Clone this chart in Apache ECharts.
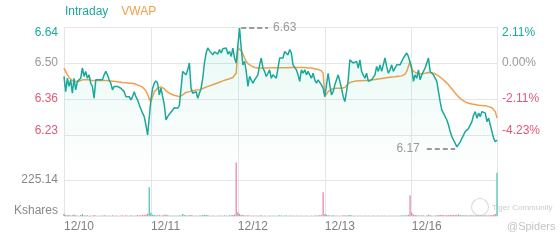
<!DOCTYPE html>
<html><head><meta charset="utf-8">
<script src="https://cdn.jsdelivr.net/npm/echarts@6/dist/echarts.min.js"></script>
<style>html,body{margin:0;padding:0;background:#fff}#c{width:560px;height:240px}</style>
</head><body><div id="c"></div>
<script>
// ---- data ----
const days = ['12/10','12/11','12/12','12/13','12/16'];
const priceD1 = [6.448,6.390,6.441,6.410,6.435,6.384,6.441,6.397,6.429,6.422,6.441,6.480,6.448,6.467,6.441,6.454,6.422,6.410,6.365,6.435,6.441,6.435,6.441,6.435,6.454,6.467,6.454,6.435,6.422,6.397,6.410,6.416,6.410,6.416,6.403,6.397,6.390,6.371,6.365,6.371,6.359,6.371,6.390,6.371,6.359,6.340,6.333,6.308,6.295,6.263,6.225,6.231];
const priceD2 = [6.360,6.403,6.422,6.431,6.422,6.378,6.403,6.397,6.340,6.282,6.295,6.304,6.311,6.320,6.329,6.333,6.327,6.337,6.340,6.467,6.473,6.454,6.473,6.499,6.403,6.384,6.384,6.390,6.365,6.384,6.403,6.441,6.499,6.537,6.556,6.546,6.543,6.530,6.541,6.543,6.533,6.550,6.537,6.553,6.546,6.556,6.533,6.543,6.524,6.556,6.518,6.499];
const priceD3 = [6.492,6.632,6.556,6.492,6.505,6.467,6.410,6.448,6.435,6.422,6.435,6.429,6.454,6.492,6.518,6.480,6.467,6.448,6.460,6.473,6.441,6.454,6.460,6.441,6.480,6.518,6.511,6.518,6.543,6.550,6.530,6.550,6.537,6.492,6.499,6.473,6.454,6.429,6.473,6.460,6.473,6.454,6.467,6.454,6.441,6.460,6.435,6.422,6.435,6.435,6.416,6.403];
const priceD4 = [6.371,6.378,6.460,6.416,6.378,6.390,6.416,6.422,6.454,6.429,6.403,6.371,6.352,6.390,6.435,6.511,6.518,6.499,6.492,6.505,6.480,6.511,6.467,6.454,6.441,6.460,6.429,6.422,6.435,6.429,6.454,6.486,6.467,6.492,6.467,6.473,6.518,6.486,6.460,6.473,6.492,6.467,6.480,6.492,6.486,6.492,6.505,6.518,6.524,6.537,6.524,6.518];
const priceD5 = [6.480,6.429,6.454,6.441,6.473,6.435,6.454,6.467,6.480,6.473,6.518,6.467,6.460,6.454,6.460,6.429,6.390,6.352,6.320,6.308,6.301,6.282,6.263,6.238,6.219,6.206,6.193,6.180,6.174,6.199,6.212,6.219,6.238,6.231,6.250,6.244,6.276,6.301,6.314,6.289,6.308,6.295,6.314,6.320,6.308,6.276,6.289,6.263,6.238,6.212,6.199,6.206];

const vwapD1 = [6.480,6.467,6.454,6.444,6.438,6.432,6.429,6.429,6.429,6.429,6.431,6.435,6.435,6.435,6.435,6.435,6.433,6.432,6.432,6.432,6.432,6.432,6.432,6.432,6.432,6.432,6.432,6.431,6.431,6.430,6.430,6.429,6.428,6.427,6.426,6.425,6.424,6.424,6.423,6.422,6.422,6.422,6.421,6.418,6.416,6.413,6.411,6.407,6.401,6.393,6.380,6.362];
const vwapD2 = [6.352,6.371,6.390,6.397,6.403,6.406,6.408,6.407,6.401,6.393,6.387,6.384,6.380,6.378,6.375,6.374,6.373,6.371,6.373,6.378,6.383,6.387,6.389,6.390,6.392,6.393,6.394,6.396,6.396,6.397,6.399,6.402,6.404,6.407,6.410,6.412,6.413,6.416,6.418,6.421,6.424,6.426,6.429,6.431,6.432,6.435,6.438,6.439,6.441,6.444,6.450,6.460];
const vwapD3 = [6.556,6.553,6.546,6.533,6.518,6.505,6.497,6.492,6.488,6.485,6.482,6.480,6.480,6.480,6.480,6.480,6.480,6.480,6.480,6.480,6.481,6.481,6.481,6.481,6.481,6.481,6.481,6.481,6.481,6.481,6.481,6.482,6.482,6.482,6.482,6.482,6.482,6.482,6.482,6.482,6.482,6.480,6.480,6.480,6.480,6.480,6.477,6.476,6.474,6.473,6.469,6.460];
const vwapD4 = [6.371,6.378,6.390,6.397,6.399,6.401,6.403,6.403,6.403,6.403,6.403,6.403,6.406,6.413,6.421,6.425,6.427,6.429,6.430,6.430,6.431,6.431,6.431,6.432,6.432,6.433,6.433,6.434,6.435,6.436,6.436,6.437,6.438,6.439,6.440,6.441,6.442,6.443,6.444,6.445,6.446,6.446,6.447,6.448,6.449,6.449,6.450,6.451,6.457,6.467,6.486,6.505];
const vwapD5 = [6.473,6.467,6.463,6.460,6.459,6.458,6.458,6.459,6.460,6.462,6.463,6.463,6.462,6.460,6.458,6.454,6.450,6.445,6.440,6.434,6.429,6.422,6.416,6.408,6.401,6.393,6.385,6.378,6.370,6.365,6.359,6.355,6.351,6.348,6.346,6.345,6.343,6.342,6.341,6.340,6.338,6.337,6.337,6.336,6.336,6.334,6.333,6.332,6.329,6.324,6.314,6.289];

const volD1 = [14,6,4,8,3,5,9,4,3,2,6,12,4,3,5,2,3,2,7,3,2,2,3,2,4,3,2,3,2,5,2,3,2,2,3,4,2,5,3,2,4,3,2,3,6,4,5,8,6,10,14,180];
const volD2 = [20,8,6,5,4,6,3,4,8,10,4,3,2,3,2,3,2,4,3,12,6,4,3,5,6,3,2,3,2,3,4,5,8,6,4,3,2,3,2,2,3,2,3,2,4,3,2,5,4,6,10,334];
const volD3 = [25,14,8,6,4,3,5,3,2,3,2,3,2,3,4,2,3,2,2,3,2,3,2,2,3,4,3,2,3,4,2,3,2,3,2,2,3,2,3,2,2,3,2,2,3,2,3,4,3,5,8,148];
const volD4 = [12,8,5,4,3,4,3,2,3,2,3,4,5,3,4,6,4,3,2,3,2,3,2,2,3,2,3,2,2,3,2,2,3,2,3,2,3,2,2,3,2,3,2,3,2,3,4,3,4,5,8,129];
const volD5 = [22,10,6,5,4,3,4,3,2,3,8,4,3,2,3,4,6,8,7,6,5,6,5,8,6,7,6,8,10,6,5,4,5,4,3,4,5,4,3,4,3,4,3,3,4,5,4,5,6,8,12,270];

const priceTicks = ['6.23','6.36','6.50','6.64'];
const pctTicks = ['-4.23%','-2.11%','0.00%','2.11%'];
const volTicks = ['Kshares','225.14',''];
const volMax = 450.28;

// ---- build ----
const price = [].concat(priceD1, priceD2, priceD3, priceD4, priceD5);
const vwap = [].concat(vwapD1, vwapD2, vwapD3, vwapD4, vwapD5);
const vol = [].concat(volD1, volD2, volD3, volD4, volD5);
const perDay = priceD1.length;
const cats = [];
days.forEach(d => { for (let i = 0; i < perDay; i++) cats.push(d + ' ' + i); });
const last = cats.length - 1;

const TEAL = '#1ba89b', RED = '#df5a78', ORANGE = '#f0a04b', GRAY = '#999', GRID = '#e6e6e6';
const FONT = "'Liberation Sans', Arial, sans-serif";

const pMin = 6.088, pStep = 0.137, nSteps = 4;
const pMax = pMin + pStep * nSteps;

const hi = Math.max(...price), lo = Math.min(...price);
const hiIdx = price.indexOf(hi), loIdx = price.indexOf(lo);

const volData = vol.map((v, i) => ({
  value: v,
  itemStyle: { color: (i > 0 && price[i] < price[i - 1]) ? '#e98aa0' : '#56c4b8' }
}));

function stepLabel(arr) {
  return function (v) {
    const s = Math.round(v);
    if (s < 1) return '';
    const t = arr[s - 1];
    if (s === nSteps) return '{t|' + t + '}';
    if (s === 1) return '{b|' + t + '}';
    return '{m' + s + '|' + t + '}';
  };
}
const stepRich = {
  t: { color: TEAL, fontSize: 12, fontFamily: FONT, padding: [11, 0, 0, 0] },
  b: { color: RED, fontSize: 12, fontFamily: FONT, padding: [0, 0, 9, 0] },
  m2: { color: RED, fontSize: 12, fontFamily: FONT },
  m3: { color: GRAY, fontSize: 12, fontFamily: FONT }
};

const chart = echarts.init(document.getElementById('c'), null, { renderer: 'canvas' });
chart.setOption({
  animation: false,
  textStyle: { fontFamily: FONT },
  legend: {
    left: 55, top: 1, icon: 'rect', itemWidth: 0, itemHeight: 0, itemGap: 8,
    textStyle: { fontSize: 12, fontFamily: FONT },
    data: [
      { name: 'Intraday', textStyle: { color: TEAL } },
      { name: 'VWAP', textStyle: { color: ORANGE } }
    ]
  },
  grid: [
    { left: 64, right: 63, top: 27, height: 144 },
    { left: 64, right: 63, top: 144, height: 72 }
  ],
  xAxis: [
    { gridIndex: 0, type: 'category', data: cats, boundaryGap: false,
      axisLine: { show: false }, axisTick: { show: false }, axisLabel: { show: false },
      splitLine: { show: true, interval: (i) => i % perDay === 0 || i === last, lineStyle: { color: GRID } } },
    { gridIndex: 1, type: 'category', data: cats, boundaryGap: false,
      axisLine: { show: true, lineStyle: { color: GRID } }, axisTick: { show: false },
      axisLabel: { show: true, interval: (i) => i % perDay === 0 && i !== last, align: 'left', margin: 5,
        color: '#808080', fontSize: 12, fontFamily: FONT,
        formatter: (v, i) => days[Math.floor(i / perDay)] },
      splitLine: { show: true, interval: (i) => i % perDay === 0 || i === last, lineStyle: { color: GRID } } }
  ],
  yAxis: [
    { gridIndex: 0, type: 'value', min: pMin, max: pMax, show: false, splitLine: { show: false } },
    { gridIndex: 0, type: 'value', min: 0, max: nSteps, interval: 1, position: 'left',
      axisLine: { show: false }, axisTick: { show: false },
      axisLabel: { margin: 6, formatter: stepLabel(priceTicks), rich: stepRich },
      splitLine: { show: true, lineStyle: { color: ['transparent', GRID, GRID, GRID, GRID] } } },
    { gridIndex: 0, type: 'value', min: 0, max: nSteps, interval: 1, position: 'right',
      axisLine: { show: false }, axisTick: { show: false },
      axisLabel: { margin: 5, formatter: stepLabel(pctTicks), rich: stepRich },
      splitLine: { show: false } },
    { gridIndex: 1, type: 'value', min: 0, max: volMax, interval: volMax / 2,
      axisLine: { show: false }, axisTick: { show: false },
      axisLabel: { margin: 6, color: '#888', fontSize: 12, fontFamily: FONT,
        formatter: (v) => { const k = Math.round(v / (volMax / 2)); return k === 0 ? '{k|' + volTicks[0] + '}' : volTicks[k]; },
        rich: { k: { color: '#888', fontSize: 12, fontFamily: FONT, padding: [0, 0, 10, 0] } } },
      splitLine: { show: true, lineStyle: { color: [GRID, GRID, 'transparent'] } } }
  ],
  series: [
    { name: 'Intraday', type: 'line', xAxisIndex: 0, yAxisIndex: 0, data: price,
      showSymbol: false, symbol: 'none', lineStyle: { color: TEAL, width: 1.5 }, itemStyle: { color: TEAL },
      areaStyle: { color: new echarts.graphic.LinearGradient(0, 0, 0, 1, [
        { offset: 0, color: 'rgba(40,200,160,0.17)' },
        { offset: 1, color: 'rgba(40,200,160,0.0)' }
      ]) },
      markLine: {
        symbol: 'none', silent: true, animation: false,
        lineStyle: { color: GRAY, type: [5, 3], width: 2 },
        label: { color: GRAY, fontSize: 12, fontFamily: FONT },
        data: [
          [ { coord: [cats[hiIdx + 1], hi], label: { position: 'end', distance: 5, formatter: hi.toFixed(2) } },
            { coord: [cats[hiIdx + 17], hi] } ],
          [ { coord: [cats[loIdx - 19], lo], label: { position: 'start', distance: 7, formatter: lo.toFixed(2) } },
            { coord: [cats[loIdx - 2], lo] } ]
        ]
      },
      z: 3 },
    { name: 'VWAP', type: 'line', xAxisIndex: 0, yAxisIndex: 0, data: vwap,
      showSymbol: false, symbol: 'none', lineStyle: { color: ORANGE, width: 1.5 }, itemStyle: { color: ORANGE }, z: 2 },
    { name: 'Volume', type: 'bar', xAxisIndex: 1, yAxisIndex: 3, data: volData, barWidth: 1.3 }
  ],
  graphic: [
    { type: 'circle', shape: { cx: 480, cy: 207, r: 8.5 }, style: { fill: 'none', stroke: '#ddd', lineWidth: 1.2 }, silent: true },
    { type: 'text', left: 492, top: 204, style: { text: 'Tiger Community', fontSize: 8, fill: '#ccc', fontFamily: FONT }, silent: true },
    { type: 'text', left: 507, top: 221, style: { text: '@Spiders', fontSize: 11, fill: '#c4c4c4', fontFamily: FONT }, silent: true }
  ]
});
</script>
</body></html>
